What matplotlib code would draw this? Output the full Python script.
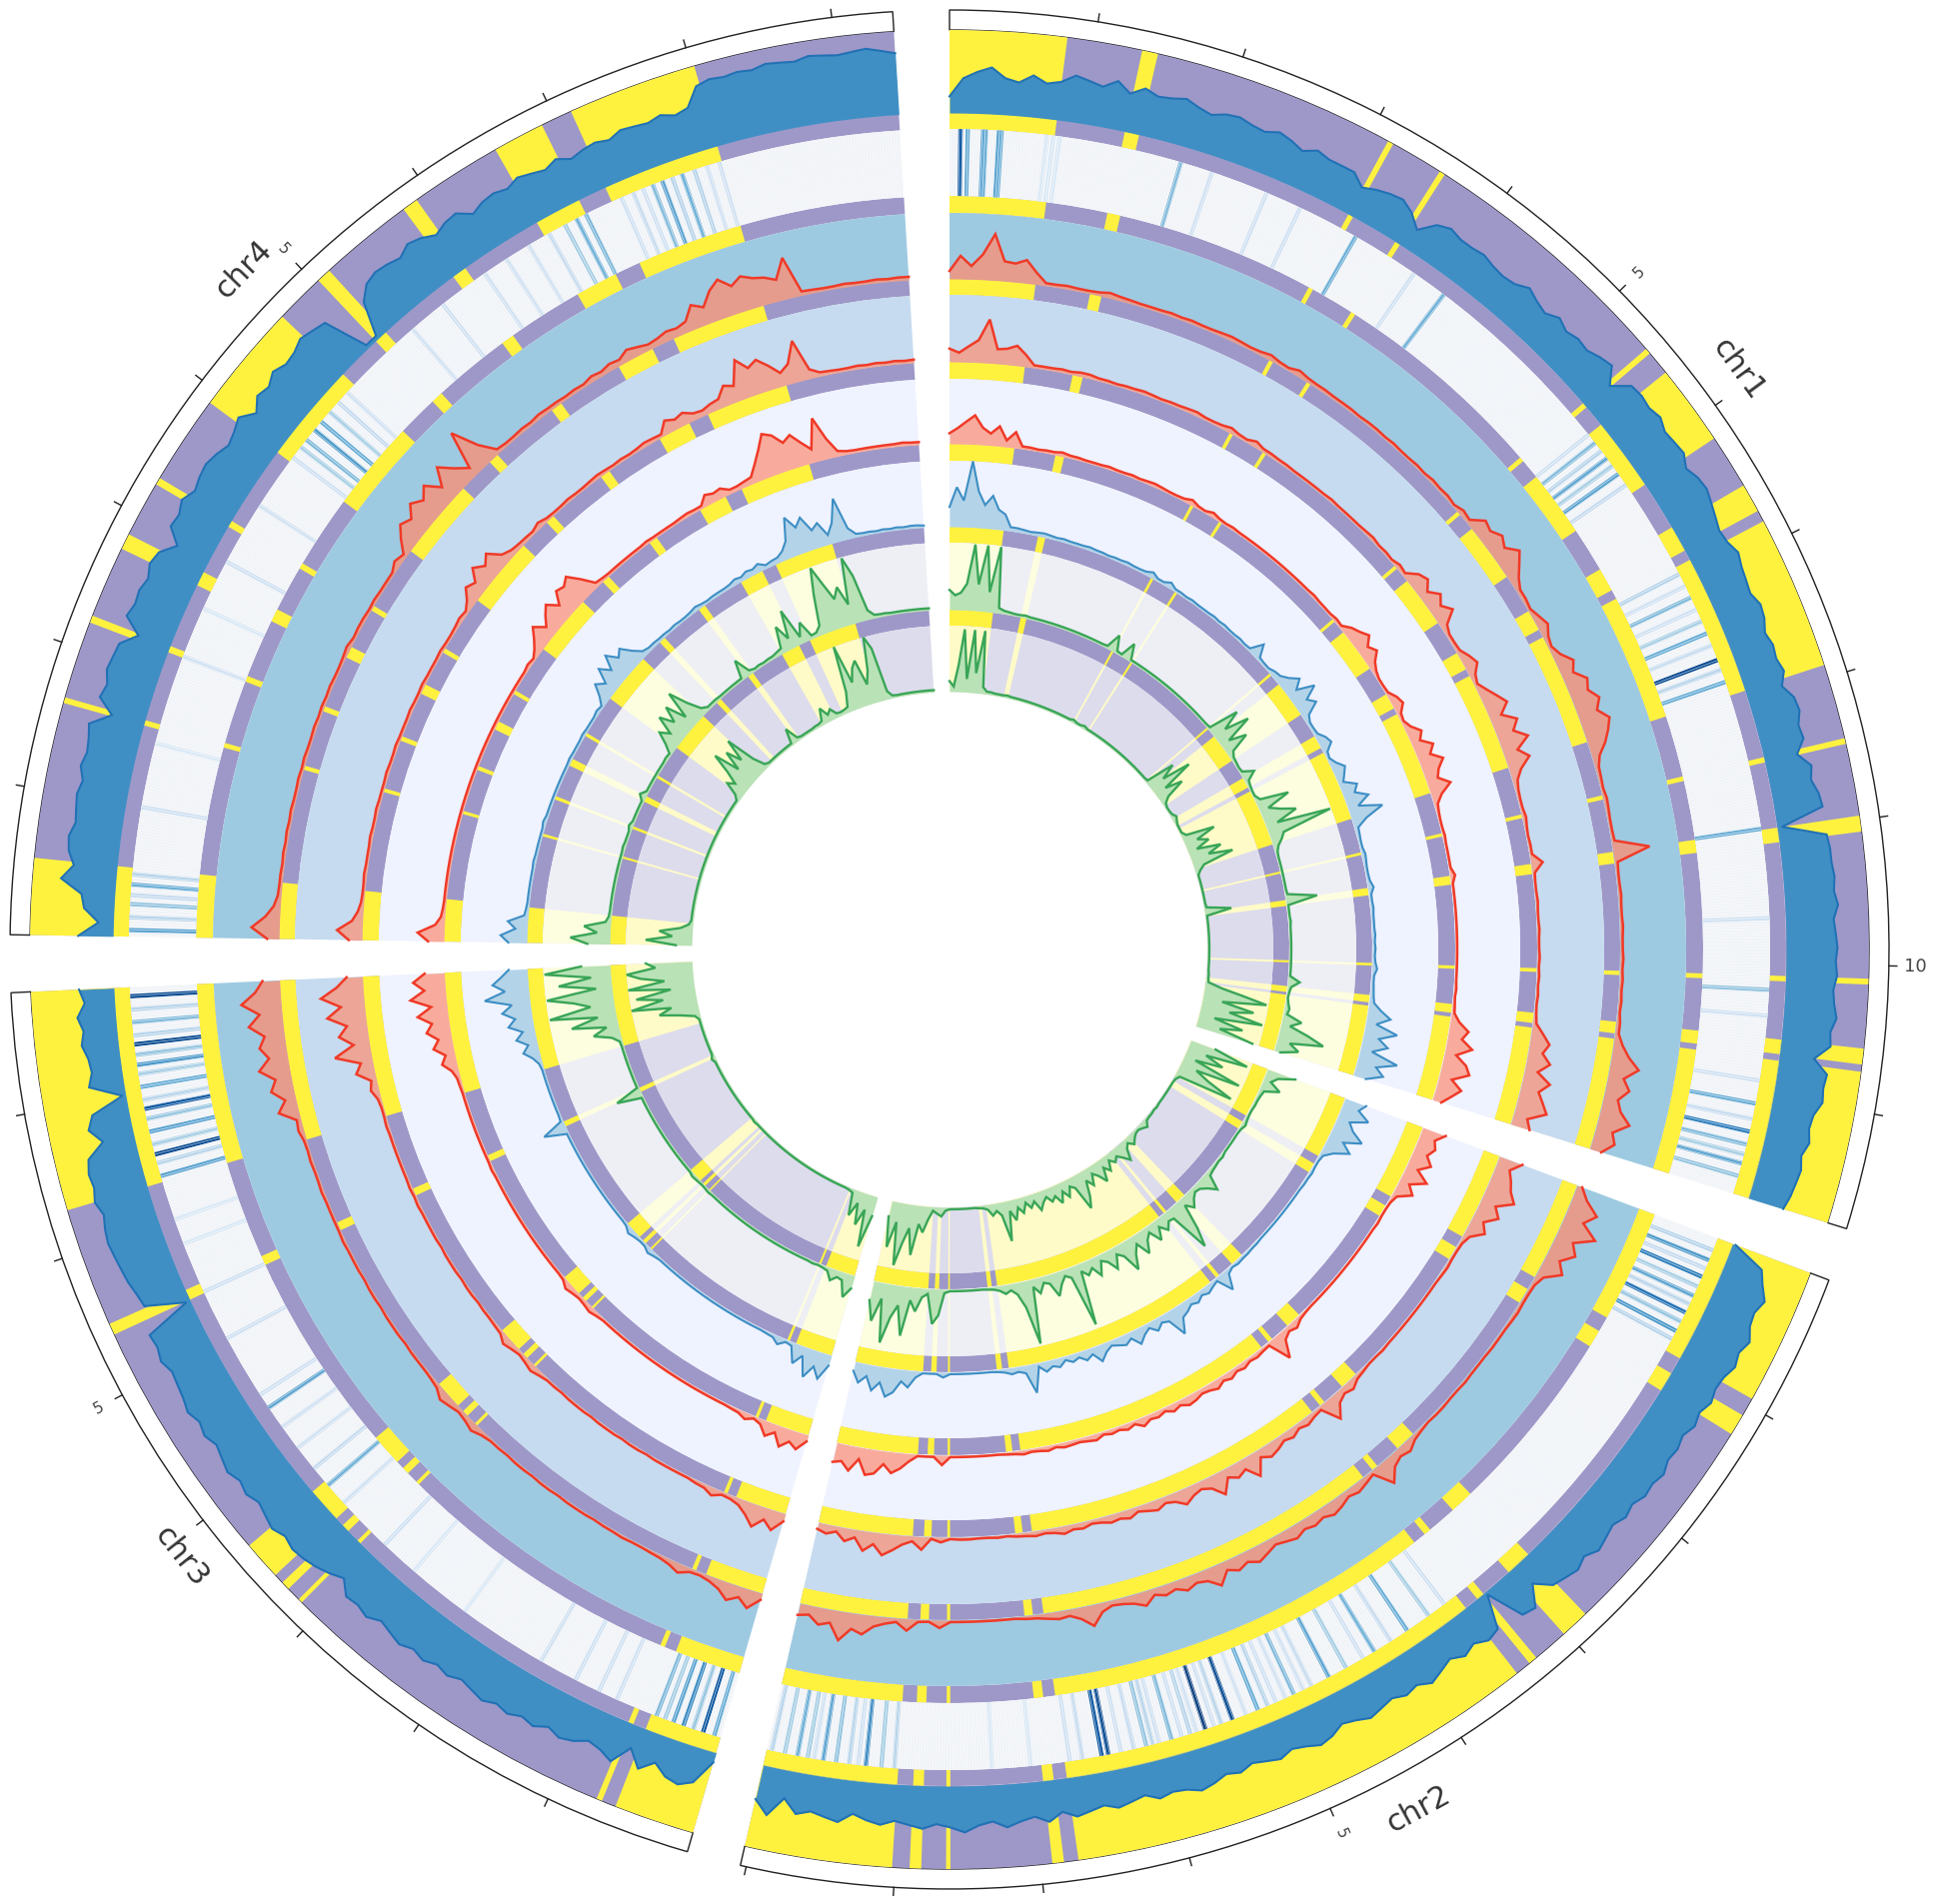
import matplotlib
matplotlib.use("Agg")
import matplotlib.pyplot as plt
import numpy as np

chrom_names=["chr1","chr2","chr3","chr4"]
chrom_mb=[11.79,9.04,7.82,9.41]
chrom_start=[0.0,110.6,196.2,270.9]
deg_per_mb=9.1

# compartments in Mb, same for every ring
chr1_yellow=[(0,.81),(1.33,1.44),(3.13,3.17),(3.54,3.58),(5.41,5.45),(5.62,6.18),(6.56,6.76),(6.84,7.91),(8.43,8.47),(8.97,9.08),(10.09,10.13),(10.57,10.68),(10.73,11.79)]
chr2_yellow=[(0,.95),(1.08,1.23),(2.82,3.02),(3.27,3.33),(3.44,6.74),(6.84,6.92),(7.62,7.65),(7.82,7.90),(8.02,9.04)]
chr3_yellow=[(0,.56),(.66,.70),(3.14,3.17),(3.27,3.33),(3.40,3.67),(5.39,5.47),(6.30,7.82)]
chr4_yellow=[(0,.53),(1.61,1.65),(2.19,2.24),(2.74,2.85),(3.24,3.29),(3.91,4.68),(5.03,5.13),(5.79,5.90),(6.54,6.90),(7.12,8.02)]

# heatmap ring: Mb position and level
chr1_heat_pos=[.085,.14,.26,.28,.38,.40,.75,.8,.85,1.8,2.05,2.5,2.78,3.26,3.79,4.07,5.62,5.7,5.78,5.85,5.92,6.0,6.1,6.9,7.0,7.1,7.2,7.3,7.4,7.5,7.62,7.7,7.8,8.96,9.65,10.2,10.4,10.9,11.08,11.2,11.3,11.4,11.48,11.55,11.65]
chr1_heat_val=[.85,.5,.55,.5,.55,.5,.15,.15,.15,.45,.2,.2,.2,.5,.2,.5,.2,.45,.3,.55,.35,.55,.25,.3,.2,.45,.2,.35,.5,.25,.9,.3,.5,.5,.2,.4,.2,.2,.5,.25,.7,.45,.35,.55,.4]
chr2_heat_pos=[.1,.18,.25,.32,.4,.48,.55,.62,.7,.78,.85,3.55,3.7,3.9,4.05,4.2,4.3,4.45,4.6,4.75,4.82,4.9,4.97,5.05,5.12,5.2,5.3,5.41,5.5,5.56,5.63,5.7,5.75,5.82,5.9,6.0,6.05,6.1,6.2,6.3,6.4,6.45,6.6,6.7,7.0,7.3,8.05,8.15,8.27,8.33,8.4,8.5,8.6,8.67,8.72,8.8,8.9,9.0]
chr2_heat_val=[.3,.6,.25,.7,.35,.55,.3,.75,.4,.6,.3,.2,.35,.5,.25,.5,.2,.35,.55,.25,.2,.45,.2,.2,.3,.5,.2,.9,.3,.2,.95,.2,.3,.2,.45,.2,.3,.4,.25,.2,.9,.85,.25,.2,.15,.15,.3,.35,.65,.2,.3,.4,.55,.2,.35,.5,.35,.3]
chr3_heat_pos=[.05,.14,.22,.3,.38,.45,.52,.85,1.0,1.2,1.5,2.2,2.7,3.0,3.45,3.63,3.8,4.0,4.2,4.38,4.5,5.0,5.4,5.8,6.0,6.35,6.45,6.52,6.6,6.7,6.8,6.88,6.95,7.05,7.15,7.22,7.3,7.38,7.45,7.55,7.65,7.75]
chr3_heat_val=[.5,.85,.4,.65,.55,.35,.45,.2,.2,.2,.2,.15,.15,.2,.2,.5,.25,.2,.2,.55,.2,.2,.2,.15,.15,.55,.3,.9,.35,.55,.4,.85,.3,.5,.35,.6,.4,.9,.3,.45,.3,.9]
chr4_heat_pos=[.05,.15,.25,.32,.4,.48,1.0,1.5,2.2,2.6,3.0,3.5,3.95,4.05,4.12,4.22,4.3,4.4,4.5,4.6,5.3,5.6,6.0,6.2,6.4,6.58,6.72,6.82,6.9,7.2,7.3,7.38,7.46,7.54,7.62,7.7,7.8,7.9,8.0]
chr4_heat_val=[.55,.3,.4,.25,.5,.3,.2,.15,.2,.15,.2,.2,.2,.35,.45,.6,.5,.35,.25,.2,.2,.2,.2,.2,.2,.25,.35,.5,.45,.2,.25,.2,.45,.55,.3,.5,.3,.2,.2]

# outermost ring, percent of ring height
chr1_t1=[20,42,50,56,44,40,50,42,46,56, 52,48,58,46,56,50,52,56,50,46,
 52,54,50,48,54,50,44,52,48,48, 48,36,42,46,48,40,26,44,50,46,
 46,48,44,42,44,52,46,42,50,44, 48,46,52,56,38,58,60,58,62,56,
 58,60,52,58,60,56,52,48,50,56, 52,50,48,54,52,46,50,48,52,44,
 54,56,50,52,40,54,50,56,58,6, 58,60,60,62,60,64,58,60,62,60,
 62,58,60,64,58,60,42,60,58,60, 52,50,54,48,52,50,48,44]
chr2_t1=[4,44,52,62,56,58,66,60,64,58, 56,60,54,58,52,56,54,60,56,58,
 52,56,50,54,58,50,56,52,48,30, 54,50,4,44,48,40,46,38,44,50,
 42,46,40,44,48,42,38,46,50,44, 40,46,42,38,44,40,46,50,44,42,
 46,38,42,46,40,44,48,40,50,42, 46,52,44,48,56,50,46,52,48,44,
 50,46,40,52,48,44,50,34,58,42]
chr3_t1=[12,42,50,46,34,48,28,52,44,40, 48,52,46,54,50,56,52,58,54,50,
 56,52,58,54,60,56,52,60,56,58, 44,52,58,62,64,60,66,62,58,64,
 60,66,62,58,64,60,66,62,60,58, 64,60,62,5,53,56,60,62,64,66,
 64,60,66,62,64,60,38,52,44,4, 42,36,38,44,40,46,36,42]
chr4_t1=[42,18,36,40,66,52,60,62,56,58, 60,56,62,58,60,64,40,60,56,62,
 60,58,40,62,58,60,56,62,58,42, 60,58,64,56,60,62,58,52,56,62,
 48,60,56,64,58,60,66,62,58,4, 4,44,58,62,60,56,64,60,52,58,
 60,48,54,56,52,58,54,50,56,48, 52,54,50,56,54,52,56,50,54,76,
 80,78,80,78,82,80,78,82,80,78, 80,82,78,74]

# first red ring
chr1_t3=[12,35,20,38,70,30,28,35,18,4, 4,5,4,4,5,8,6,5,4,4,
 4,5,4,5,4,4,5,6,5,4, 5,8,5,4,9,6,5,5,4,4,
 4,3,4,4,3,4,3,3,4,3, 5,4,5,3,8,6,24,20,30,22,
 38,26,14,6,6,4,10,16,8,5, 12,26,18,34,28,40,30,44,36,26,
 12,6,5,4,6,5,4,4,5,56, 5,4,4,5,4,4,5,4,4,5,
 4,5,4,5,4,6,6,14,26,44, 24,36,22,30,48,26,34,18]
chr2_t3=[8,22,45,30,57,28,40,22,35,12, 6,5,5,6,5,4,4,4,3,3,
 3,4,3,3,4,4,3,5,8,16, 12,18,36,6,10,14,10,16,20,14,
 18,14,20,16,12,18,24,16,22,14, 32,18,14,20,12,16,10,22,14,10,
 8,14,32,18,10,12,9,6,5,3, 3,3,3,3,3,3,12,3,4,18,
 6,10,16,30,24,44,20,26,14,18]
chr3_t3=[10,28,16,26,14,8,5,6,14,8, 5,4,3,3,4,3,3,2,3,3,
 3,2,3,3,2,3,3,2,3,3, 6,12,8,6,10,14,6,4,3,3,
 3,2,3,3,3,2,3,3,2,3, 3,3,4,3,3,3,3,4,3,3,
 4,3,4,8,6,30,16,34,24,46, 28,40,30,52,34,60,38,26]
chr4_t3=[18,42,22,10,5,4,4,3,4,3, 4,3,4,3,3,4,3,4,3,3,
 4,3,4,3,4,3,3,4,6,3, 4,4,3,4,3,3,3,10,5,22,
 36,28,44,32,46,24,50,30,14,71, 30,6,4,4,5,4,6,5,5,4,
 5,4,8,6,10,8,16,12,8,10, 14,12,16,36,26,46,58,42,52,44,
 40,32,62,6,5,4,4,5,4,4, 5,4,5,5]

# second red ring
chr1_t4=[20,14,24,34,66,22,24,30,18,4, 4,4,5,4,6,6,4,4,3,4,
 4,5,4,3,4,4,5,6,4,4, 5,8,5,4,9,5,5,4,4,3,
 3,3,3,3,4,3,3,3,3,4, 5,3,4,3,7,5,20,26,14,28,
 18,30,10,5,5,6,14,20,9,5, 14,24,34,18,38,26,44,22,36,18,
 8,5,4,4,6,4,3,4,4,18, 4,3,3,4,3,3,4,3,3,4,
 3,4,3,4,3,4,6,18,30,22, 36,20,42,28,38,48,22,30]
chr2_t4=[37,22,30,36,48,24,36,18,28,10, 5,4,4,5,4,3,3,3,3,3,
 3,3,3,3,4,3,3,5,7,14, 10,16,35,6,8,12,8,14,10,16,
 20,12,36,16,22,14,35,18,12,16, 24,14,10,16,12,8,14,10,12,8,
 6,10,8,12,8,6,8,6,5,3, 4,3,3,4,4,3,8,3,20,8,
 14,24,33,18,30,12,20,8,14,10]
chr3_t4=[12,30,18,34,20,10,6,5,12,6, 5,3,3,3,3,3,2,3,3,2,
 3,3,3,2,3,3,3,2,3,3, 6,10,7,5,8,12,5,4,3,3,
 2,3,3,2,3,3,3,2,3,3, 3,3,4,3,4,3,3,3,3,3,
 3,4,3,3,5,12,8,28,18,55, 24,44,30,58,36,65,40,24]
chr4_t4=[20,38,16,8,4,3,3,4,3,3, 3,4,3,3,4,3,3,3,4,3,
 3,4,3,3,3,4,3,3,4,3, 3,3,4,3,3,4,6,4,12,25,
 18,35,22,33,14,8,6,5,4,8, 4,3,3,4,3,3,4,5,4,3,
 4,3,4,6,5,4,20,14,18,10, 8,12,14,30,24,60,42,50,36,20,
 30,62,14,6,5,4,4,5,4,5, 4,5,4,5]

# third red ring
chr1_t5=[16,24,34,44,26,18,30,10,24,4, 4,3,4,4,6,4,4,3,3,3,
 4,3,3,4,3,4,5,4,3,3, 4,8,4,3,7,4,3,4,3,3,
 3,3,3,3,3,3,3,3,3,3, 4,3,3,3,5,4,14,20,28,16,
 24,12,6,3,3,4,12,16,6,4, 10,22,14,30,20,36,24,18,34,16,
 6,4,3,3,4,3,3,3,3,8, 3,3,3,3,3,3,3,3,3,3,
 3,3,3,4,3,4,5,14,30,22, 40,18,36,44,20,38,26,14]
chr2_t5=[37,24,30,22,34,18,39,16,28,8, 4,3,3,4,3,3,3,3,3,3,
 3,3,3,3,3,3,3,4,6,12, 8,14,39,5,6,8,6,10,7,12,
 8,14,10,8,12,14,8,12,6,10, 8,14,6,10,6,8,5,10,8,6,
 7,8,5,8,6,5,7,5,4,3, 3,3,3,3,3,3,15,3,3,3,
 12,24,32,20,36,40,18,38,26,30]
chr3_t5=[10,26,18,30,12,22,8,4,10,5, 4,3,3,3,3,3,3,3,3,3,
 3,3,3,3,3,3,3,3,3,3, 5,8,6,5,7,10,4,3,3,3,
 3,3,3,3,3,3,3,3,3,3, 3,3,4,3,3,3,3,3,3,3,
 3,3,3,4,5,10,22,14,30,20, 36,26,46,24,54,32,48,30]
chr4_t5=[24,40,14,6,4,3,3,3,3,3, 3,3,3,3,3,3,3,3,3,3,
 3,3,3,3,3,3,3,3,3,3, 3,3,3,3,3,3,5,3,10,20,
 32,16,28,38,22,40,36,44,26,6, 4,3,3,3,3,3,3,4,3,3,
 3,3,4,5,4,4,16,12,14,6, 6,8,10,26,44,65,58,42,50,34,
 20,65,30,8,5,4,4,4,4,4, 4,5,4,4]

# blue ring
chr1_t6=[30,60,40,100,55,35,50,30,24,6, 6,5,4,5,6,5,4,5,4,4,
 4,5,4,4,3,4,4,5,4,4, 5,9,4,4,9,4,4,3,4,3,
 3,3,4,3,4,3,3,4,3,4, 23,5,4,4,8,10,18,30,16,42,
 20,30,10,5,5,6,14,18,6,4, 10,20,14,8,26,18,36,16,51,22,
 6,5,4,4,6,5,4,4,5,9, 4,4,5,4,4,4,5,4,5,4,
 5,8,4,4,5,6,8,20,36,16, 50,24,40,18,60,30,44,20]
chr2_t6=[34,26,46,20,30,50,24,40,18,6, 4,4,5,4,4,3,3,3,3,3,
 3,3,3,3,3,4,4,5,5,6, 4,8,30,5,8,12,8,14,10,16,
 20,42,14,10,18,8,14,24,10,16, 12,8,14,25,10,16,8,12,6,14,
 10,16,6,44,12,8,10,6,4,3, 3,3,3,3,3,3,8,3,3,3,
 10,26,18,36,44,24,38,18,30,14]
chr3_t6=[16,40,24,44,14,30,6,4,12,5, 4,3,3,3,3,3,3,3,3,3,
 3,3,3,3,3,3,3,3,3,3, 5,8,4,4,6,9,4,3,3,3,
 3,3,3,3,3,3,3,3,3,3, 3,3,3,36,4,3,3,3,3,3,
 3,3,3,5,12,24,14,30,18,38, 26,44,28,68,36,54,40,28]
chr4_t6=[28,40,18,30,6,4,3,3,3,3, 3,3,4,3,3,3,3,3,5,3,
 3,3,3,3,3,3,3,3,4,3, 3,3,4,3,3,3,5,3,14,30,
 18,40,24,45,28,36,20,8,5,5, 4,4,3,4,3,3,4,6,4,3,
 4,4,4,5,8,6,10,8,12,5, 7,8,14,26,60,40,52,28,36,14,
 30,65,16,5,4,4,3,4,3,4, 3,4,4,3]

# two green rings
chr1_t7=[30,22,26,40,100,40,100,30,100,8, 5,4,3,3,4,3,3,3,3,3,
 3,3,3,3,3,3,3,3,3,3, 4,26,4,3,26,3,3,3,3,3,
 3,3,3,3,3,3,3,3,3,3, 3,3,3,3,4,50,20,57,14,40,
 10,5,4,3,4,20,6,4,3,3, 8,51,14,30,52,18,100,22,16,8,
 4,3,3,3,3,3,3,3,4,48, 3,3,3,4,3,3,3,3,3,3,
 3,3,3,3,18,6,4,3,5,8, 6,30,14,44,70,20,36,10]
chr2_t7=[45,20,12,30,8,6,5,5,4,4, 5,7,4,3,3,3,3,3,5,4,
 5,6,8,30,18,10,8,14,24,12, 50,78,16,14,24,12,30,10,18,36,
 14,26,48,20,12,32,16,10,30,14, 22,12,95,16,10,20,36,14,10,24,
 12,98,40,18,10,14,8,5,4,3, 3,3,3,3,3,3,6,40,53,8,
 14,36,20,75,30,50,90,24,60,30]
chr3_t7=[20,36,12,10,18,6,4,3,4,3, 3,3,3,3,3,3,3,3,3,3,
 3,3,3,3,3,3,3,3,3,3, 3,4,3,3,4,5,3,3,3,3,
 3,3,3,3,3,3,3,3,3,3, 3,3,3,40,3,3,3,3,3,3,
 3,3,3,4,14,40,18,70,28,100, 36,60,100,24,80,30,100,44]
chr4_t7=[34,60,20,40,8,4,3,3,3,3, 3,3,3,3,3,3,3,3,4,3,
 3,3,6,3,3,3,3,3,10,3, 3,3,3,3,3,3,4,3,16,34,
 20,48,26,50,18,60,30,10,4,4, 4,3,3,3,3,3,3,30,6,3,
 4,3,4,4,6,8,40,16,58,10, 30,5,6,14,60,100,70,44,60,30,
 100,70,14,5,4,4,3,3,3,3, 3,3,3,3]
chr1_t8=[16,8,40,95,20,95,30,95,10,4, 4,3,3,3,4,3,3,3,3,3,
 3,3,3,3,3,3,3,3,3,3, 3,5,3,3,5,3,3,3,3,3,
 3,3,3,3,3,3,3,3,3,3, 3,3,3,3,4,48,24,68,18,44,
 14,5,3,3,4,8,5,3,3,3, 8,51,20,36,14,50,28,64,16,8,
 3,3,3,3,3,3,3,3,4,41, 3,3,3,3,3,3,3,3,3,3,
 3,3,3,3,4,4,5,26,60,97, 30,80,44,97,24,70,36,90]
chr2_t8=[40,94,30,60,18,94,26,50,92,8, 4,3,3,3,3,3,3,3,4,3,
 4,4,5,12,8,5,6,10,16,8, 14,30,20,12,18,10,24,14,34,20,
 12,28,16,40,56,18,12,26,14,30, 16,22,12,18,28,12,20,10,24,14,
 32,16,61,20,12,18,8,5,4,3, 3,3,3,3,3,3,5,14,10,6,
 20,40,28,76,36,60,95,30,70,24]
chr3_t8=[30,80,24,50,18,40,6,4,3,3, 3,3,3,3,3,3,3,3,3,3,
 3,3,3,3,3,3,3,3,3,3, 3,3,3,3,3,4,3,3,3,3,
 3,3,3,3,3,3,3,3,3,3, 3,3,3,6,3,3,3,3,3,3,
 3,3,3,3,8,30,60,40,100,50, 90,36,100,44,80,100,56,70]
chr4_t8=[24,70,30,50,18,6,3,3,3,3, 3,3,3,3,3,3,3,3,3,3,
 3,3,3,3,3,3,3,3,3,3, 3,3,3,3,3,3,3,3,10,30,
 20,40,70,30,60,36,70,24,6,3, 3,3,3,3,3,3,3,25,5,3,
 3,3,3,4,4,6,24,10,16,6, 5,6,8,30,100,40,60,70,30,50,
 100,80,12,4,3,3,3,3,3,3, 3,3,3,3]

line_tracks=[
    (837,83,[chr1_t1,chr2_t1,chr3_t1,chr4_t1],"#2171b5","#3f8fc5",1.5),
    (671,66,[chr1_t3,chr2_t3,chr3_t3,chr4_t3],"#f03a28","#e59c8d",1.8),
    (588,66,[chr1_t4,chr2_t4,chr3_t4,chr4_t4],"#f03a28","#eca596",1.8),
    (506,66,[chr1_t5,chr2_t5,chr3_t5,chr4_t5],"#f03a28","#f8ab9c",1.8),
    (423,66,[chr1_t6,chr2_t6,chr3_t6,chr4_t6],"#3d8ec4","#b3d3e8",1.5),
    (340,66,[chr1_t7,chr2_t7,chr3_t7,chr4_t7],"#39a557","#b9e2b6",1.7),
    (258,66,[chr1_t8,chr2_t8,chr3_t8,chr4_t8],"#39a557","#b9e2b6",1.7),
]
yellows=[chr1_yellow,chr2_yellow,chr3_yellow,chr4_yellow]
heat_pos=[chr1_heat_pos,chr2_heat_pos,chr3_heat_pos,chr4_heat_pos]
heat_val=[chr1_heat_val,chr2_heat_val,chr3_heat_val,chr4_heat_val]

YELLOW="#fff23f"
PURPLE="#9e98c8"
R=1000
cx,cy,W,H=950,950,1937,1905

fig=plt.figure(figsize=(W/100,H/100),dpi=100)
ax=fig.add_axes([(cx-R)/W,(H-cy-R)/H,2*R/W,2*R/H],projection="polar")
ax.set_theta_zero_location("N")
ax.set_theta_direction(-1)
ax.set_ylim(0,R)
ax.set_axis_off()


def th(c,mb):
    return np.deg2rad(chrom_start[c]+np.asarray(mb)*deg_per_mb)


def band(c,a,b,r0,r1,color,**kw):
    t0,t1=th(c,a),th(c,b)
    ax.bar((t0+t1)/2,r1-r0,width=t1-t0,bottom=r0,color=color,linewidth=0,**kw)


def compartments(c,r0,r1,col_y,col_p):
    band(c,0,chrom_mb[c],r0,r1,col_p)
    for a,b in yellows[c]:
        band(c,a,b,r0,r1,col_y)


for c in range(4):
    L=chrom_mb[c]
    # frame
    t0,t1=th(c,0),th(c,L)
    ax.bar((t0+t1)/2,20,width=t1-t0,bottom=920,facecolor="white",edgecolor="#222222",linewidth=1.0)
    for mb in range(1,int(L)+1):
        ax.plot([th(c,mb)]*2,[940,948],color="#222222",lw=1.0)
        if mb%5==0:
            deg=chrom_start[c]+mb*deg_per_mb
            rot=90-deg
            if rot<-90:
                rot+=180
            ax.text(th(c,mb),967,str(mb),rotation=rot,rotation_mode="anchor",ha="center",va="center",
                    fontsize=13 if mb==10 else 11,color="#444444")
    mid=th(c,{0:5.9,1:4.48,2:3.9,3:4.73}[c])
    deg=np.rad2deg(mid)
    rot=-deg
    if deg>90 and deg<270:
        rot+=180
    ax.text(mid,980,chrom_names[c],rotation=rot,rotation_mode="anchor",ha="center",va="center",fontsize=22,color="#333333")

    # background rings
    compartments(c,837,920,YELLOW,PURPLE)
    for r0,r1 in [(821,837),(737,754),(655,671),(571,588),(489,506),(407,423),(324,340)]:
        compartments(c,r0,r1,YELLOW,PURPLE)
    band(c,0,L,671,737,"#9ecae1")
    band(c,0,L,588,655,"#c6dbef")
    band(c,0,L,506,571,"#eff3ff")
    band(c,0,L,423,489,"#eff3ff")
    compartments(c,340,407,"#fdfde0","#eeeef5")
    compartments(c,258,324,"#fffbc8","#dddcec")

    # heatmap ring
    band(c,0,L,754,821,"#f0f3f7")
    ax.vlines(th(c,np.arange(0.01,L,0.022)),754,821,color="white",lw=0.5,alpha=0.7)
    for p,v in zip(heat_pos[c],heat_val[c]):
        band(c,p-0.017,p+0.017,754,821,plt.cm.Blues(v))

    # value rings
    for base,height,series,line_col,fill_col,lw in line_tracks:
        vals=np.asarray(series[c],dtype=float)
        x=th(c,np.linspace(0,L,len(vals)))
        r=base+vals/100*height
        ax.fill_between(x,base,r,color=fill_col,linewidth=0)
        ax.plot(x,r,color=line_col,lw=lw,solid_joinstyle="miter")

fig.savefig("out.png",dpi=100,facecolor="white")
